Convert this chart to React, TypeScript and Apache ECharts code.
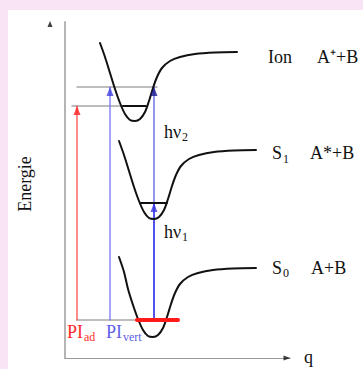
import React, { useEffect, useRef } from "react";
import * as echarts from "echarts";

// coordinates: q (reaction coordinate), E (energy), arbitrary units
const ionCurve = [[35,315],[40,301],[45,285],[50,269],[55,255],[60,244],[65,238],[70,237],[75,239],[80,246],[84,257],[88,270],[92,281],[97,290],[105,297],[115,301],[130,304],[150,305.5],[172,306]];
const s1Curve = [[54,217],[59,203],[64,187],[69,171],[74,157],[79,146],[84,140],[89,139],[94,141],[99,148],[103,159],[107,172],[111,183],[116,192],[124,199],[134,203],[149,206],[169,207.5],[191,208]];
const s0Curve = [[54,101],[59,86],[63,69],[68,53],[73,39],[78,28],[83,22],[88,21],[93,23],[98,30],[102,41],[106,54],[110,65],[115,74],[123,81],[133,85],[148,88],[168,89.5],[191,90]];

const ionLevel = [[58,252],[81,252]];
const s1Level = [[75,155],[102,155]];
const grayLow = [[7,252],[58,252]];
const grayHigh = [[12,271],[92,271]];
const grayBase = [[12,38],[72,38]];
const redBar = [[72,38],[113,38]];

const arrowAd = [[12,38],[12,252]];
const arrowVert = [[45,38],[45,271]];
const arrowHv1 = [[89,38],[89,155]];
const arrowHv2 = [[89,155],[89,271]];

const labels = [
  { t: "Ion", x: 268, y: 57 },
  { t: "A⁺+B", x: 317, y: 57 },
  { t: "S", x: 272, y: 153 },
  { t: "A*+B", x: 310, y: 153 },
  { t: "S", x: 272, y: 268 },
  { t: "A+B", x: 311, y: 268 },
  { t: "hν", x: 164, y: 132 },
  { t: "hν", x: 164, y: 232 },
];
const subs = [
  { t: "1", x: 283, y: 159 },
  { t: "0", x: 283, y: 273 },
  { t: "2", x: 182, y: 137 },
  { t: "1", x: 182, y: 237 },
];

const FONT = "Liberation Serif";

export default function App() {
  const ref = useRef<HTMLDivElement>(null);
  useEffect(() => {
    const chart = echarts.init(ref.current!, undefined, { renderer: "svg" });
    const line = (data: number[][], color: string, width: number, smooth: any = false, z = 2) => ({
      type: "line", data, smooth, symbol: "none", z,
      lineStyle: { color, width, cap: "round" },
      silent: true,
    });
    const head = (data: number[][], color: string) => ({
      type: "scatter", data, symbol: "triangle", symbolSize: [7, 9], symbolOffset: [0, 4.5],
      itemStyle: { color }, z: 5, silent: true, clip: false,
    });
    const txt = (t: string, x: number, y: number, size: number, fill = "#111") => ({
      type: "text", x, y, style: { text: t, font: `${size}px "${FONT}"`, fill, align: "left", verticalAlign: "middle" },
    });
    chart.setOption({
      animation: false,
      backgroundColor: "#f8e4f4",
      grid: { left: 65, right: 73, top: 22, bottom: 11 },
      xAxis: {
        type: "value", min: 0, max: 225,
        axisLine: { show: true, lineStyle: { color: "#9a9a9a", width: 1.2 } },
        axisTick: { show: false }, axisLabel: { show: false }, splitLine: { show: false },
      },
      yAxis: {
        type: "value", min: 0, max: 336, offset: 15,
        axisLine: { show: true, lineStyle: { color: "#b5b5b5", width: 2 } },
        axisTick: { show: false }, axisLabel: { show: false }, splitLine: { show: false },
      },
      graphic: [
        { type: "rect", shape: { x: 8, y: 10, width: 355, height: 359 }, style: { fill: "#ffffff" }, z: -10 },
        { type: "text", x: 25, y: 184, rotation: Math.PI / 2, style: { text: "Energie", font: `18px "${FONT}"`, fill: "#111", align: "center", verticalAlign: "middle" } },
        txt("q", 304, 357, 18),
        ...labels.map((l) => txt(l.t, l.x, l.y, 18)),
        ...subs.map((l) => txt(l.t, l.x, l.y, 12)),
        txt("PI", 67, 332, 18, "#ff2a2a"),
        txt("ad", 84, 337, 12, "#ff2a2a"),
        txt("PI", 106, 332, 18, "#6060e8"),
        txt("vert", 123, 337, 12, "#6060e8"),
      ],
      series: [
        line(grayLow, "#a8a8a8", 1.5),
        line(grayHigh, "#a8a8a8", 1.5),
        line(grayBase, "#a8a8a8", 1.5),
        line(arrowAd, "#ff4040", 1.2),
        line(arrowVert, "#6c6cf0", 1.2),
        line(arrowHv2, "#5050e0", 1.2),
        line(arrowHv1, "#5252ee", 2),
        line(ionCurve, "#111", 2, 0.3, 3),
        line(s1Curve, "#111", 2, 0.3, 3),
        line(s0Curve, "#111", 2, 0.3, 3),
        line(ionLevel, "#111", 1.8, false, 3),
        line(s1Level, "#111", 1.8, false, 3),
        line(redBar, "#ff1a1a", 4, false, 4),
        head([arrowAd[1]], "#ff2020"),
        head([arrowVert[1]], "#4040e0"),
        head([arrowHv1[1]], "#3a3ae0"),
        head([arrowHv2[1]], "#1a1a90"),
        {
          type: "scatter", data: [[-15, 336]], symbol: "triangle", symbolSize: [5, 6], symbolOffset: [0, 2],
          itemStyle: { color: "#111" }, z: 5, silent: true, clip: false,
        },
        {
          type: "scatter", data: [[225, 0]], symbol: "triangle", symbolSize: [5, 7], symbolRotate: -90, symbolOffset: [-3, 0],
          itemStyle: { color: "#111" }, z: 5, silent: true, clip: false,
        },
      ],
    });
    return () => chart.dispose();
  }, []);
  return <div ref={ref} style={{ position: "absolute", left: 0, top: 0, width: 363, height: 369 }} />;
}
